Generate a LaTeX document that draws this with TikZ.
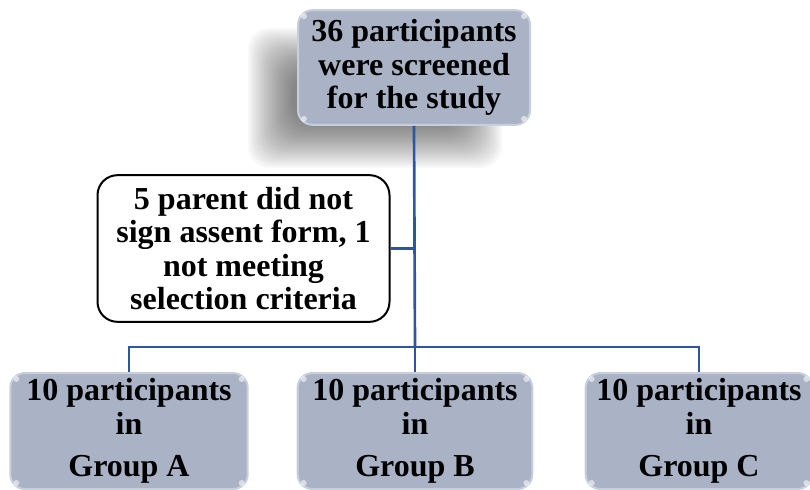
\documentclass[tikz,border=0pt]{standalone}
\usepackage{fontspec}
\setmainfont{Liberation Serif}
\usepackage{tikz}
\usetikzlibrary{positioning}

\definecolor{boxfill}{RGB}{170,179,198}
\definecolor{boxedge}{RGB}{200,207,220}
\definecolor{linkblue}{RGB}{46,86,158}

\begin{document}
\begin{tikzpicture}[x=0.75pt,y=-0.75pt,
  box/.style={draw=boxedge,line width=1.5pt,fill=boxfill,rounded corners=11pt,align=center,
    font=\fontsize{24}{25}\selectfont\bfseries,inner sep=0pt},
  note/.style={draw=black,line width=1.5pt,fill=white,rounded corners=15pt,align=center,
    font=\fontsize{24}{25}\selectfont\bfseries,inner sep=0pt},
  lnk/.style={draw=linkblue,line width=2pt}]
\useasboundingbox (0,0) rectangle (810,489);

% soft shadow behind the top box
\foreach \k in {0,...,22}
  \fill[black,opacity=0.028,rounded corners=16pt] (248+2*\k,28+2*\k) rectangle (502-2*\k,168-2*\k);

\node[box,minimum width=174pt,minimum height=86pt] (top) at (414,67.5)
  {36 participants\\were screened\\for the study};

\node[note,minimum width=219pt,minimum height=110pt] (excl) at (243.5,248.5)
  {5 parent did not\\sign assent form, 1\\not meeting\\selection criteria};

\node[box,minimum width=178pt,minimum height=87pt] (A) at (129,431)
  {10 participants\\in\\[7pt]Group A};
\node[box,minimum width=176pt,minimum height=87pt] (B) at (415,431)
  {10 participants\\in\\[7pt]Group B};
\node[box,minimum width=170pt,minimum height=87pt] (C) at (699,431)
  {10 participants\\in\\[7pt]Group C};

% corner highlights
\foreach \n in {top,A,B,C}{
  \fill[white,opacity=0.55] ([shift={(7,7)}]\n.north west) circle (3);
  \fill[white,opacity=0.55] ([shift={(-7,7)}]\n.north east) circle (3);
  \fill[white,opacity=0.55] ([shift={(7,-7)}]\n.south west) circle (3);
  \fill[white,opacity=0.55] ([shift={(-7,-7)}]\n.south east) circle (3);
}

\coordinate (fork) at (415,347);
\draw[lnk] (top.south) -- (fork);
\draw[lnk] (excl.east) -- (excl.east -| fork);
\draw[lnk] (A.north) |- (fork) -| (C.north);
\draw[lnk] (fork) -- (B.north);
\end{tikzpicture}
\end{document}
